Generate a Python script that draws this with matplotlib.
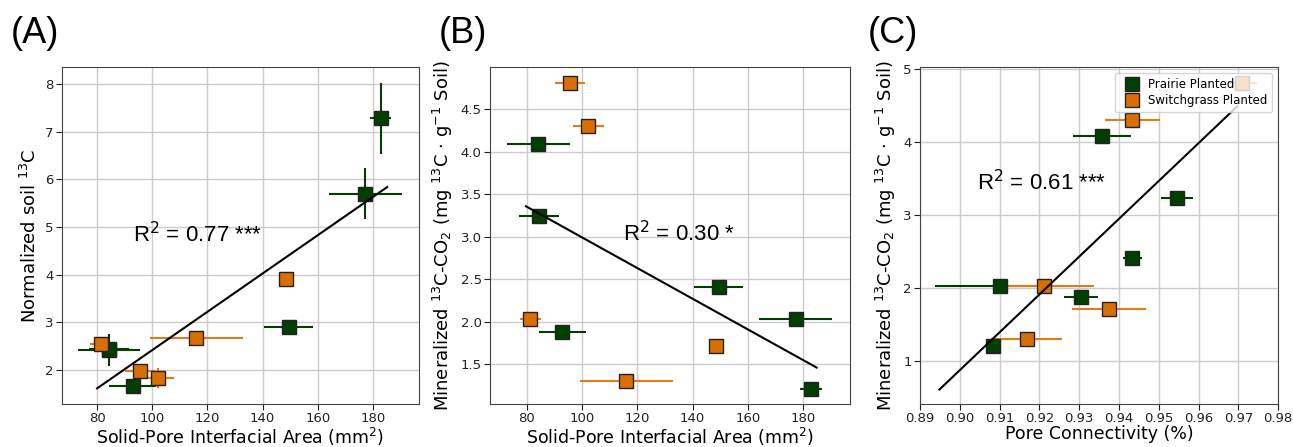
import numpy as np
import matplotlib.pyplot as plt
from matplotlib.lines import Line2D

# Prairie planted (green)
prairie_area = [84.2, 84.4, 92.9, 149.5, 177.3, 182.8]
prairie_area_err = [11.3, 7.3, 8.6, 8.9, 13.2, 3.9]
prairie_soil13c = [2.41, 2.44, 1.66, 2.89, 5.70, 7.28]
prairie_soil13c_err = [0.34, 0.0, 0.0, 0.05, 0.53, 0.75]
prairie_co2 = [4.09, 3.24, 1.88, 2.41, 2.03, 1.21]
prairie_conn = [0.9357, 0.9546, 0.9305, 0.9434, 0.9101, 0.9083]
prairie_conn_err = [0.0073, 0.0040, 0.0043, 0.0025, 0.0164, 0.0018]

# Switchgrass planted (orange)
switch_area = [95.5, 102.2, 81.3, 116.0, 148.4]
switch_area_err = [5.4, 5.6, 3.7, 16.8, 1.0]
switch_soil13c = [1.98, 1.82, 2.54, 2.67, 3.90]
switch_soil13c_err = [0.0, 0.21, 0.0, 0.0, 0.05]
switch_co2 = [4.81, 4.31, 2.03, 1.30, 1.72]
switch_conn = [0.9709, 0.9434, 0.9212, 0.9168, 0.9376]
switch_conn_err = [0.0038, 0.0068, 0.0125, 0.0089, 0.0093]

# regression lines (end points)
fit_a_x = [80, 185.2]
fit_a_y = [1.61, 5.84]
fit_b_x = [79.7, 184.9]
fit_b_y = [3.36, 1.46]
fit_c_x = [0.8949, 0.9697]
fit_c_y = [0.61, 4.49]

GREEN = '#003f00'
ORANGE = '#d96f00'
ORANGE_BAR = '#e07d18'

fig = plt.figure(figsize=(12.93, 4.47), dpi=100)
ax_a = fig.add_axes([0.048, 0.096, 0.276, 0.754])
ax_b = fig.add_axes([0.379, 0.096, 0.278, 0.754])
ax_c = fig.add_axes([0.7115, 0.096, 0.277, 0.754])


def plot_series(ax, x, y, xerr, yerr, color, barcolor):
    ax.errorbar(x, y, xerr=xerr, yerr=yerr, fmt='none', ecolor=barcolor,
                elinewidth=1.5, capsize=0, zorder=2)
    ax.plot(x, y, 's', color=color, markersize=10, markeredgecolor='#222222',
            markeredgewidth=1.0, linestyle='none', zorder=3)


def style_axis(ax):
    ax.grid(True, color='#cccccc', linewidth=1.0)
    ax.set_axisbelow(True)
    for sp in ax.spines.values():
        sp.set_color('#444444')
    ax.tick_params(labelsize=9.5, colors='#222222', length=4, pad=2)


# (A)
plot_series(ax_a, prairie_area, prairie_soil13c, prairie_area_err, prairie_soil13c_err, GREEN, GREEN)
plot_series(ax_a, switch_area, switch_soil13c, switch_area_err, switch_soil13c_err, ORANGE, ORANGE_BAR)
ax_a.plot(fit_a_x, fit_a_y, color='black', linewidth=1.5, zorder=4)
ax_a.set_xlim(67.3, 196.7)
ax_a.set_ylim(1.28, 8.36)
ax_a.set_xticks([80, 100, 120, 140, 160, 180])
ax_a.set_yticks([2, 3, 4, 5, 6, 7, 8])
ax_a.set_xlabel('Solid-Pore Interfacial Area (mm$^2$)', fontsize=12.5, labelpad=0)
ax_a.set_ylabel('Normalized soil $^{13}$C', fontsize=13)
ax_a.text(93, 4.83, 'R$^2$ = 0.77 ***', fontsize=16, family='Liberation Sans', va='center')
style_axis(ax_a)

# (B)
plot_series(ax_b, prairie_area, prairie_co2, prairie_area_err, None, GREEN, GREEN)
plot_series(ax_b, switch_area, switch_co2, switch_area_err, None, ORANGE, ORANGE_BAR)
ax_b.plot(fit_b_x, fit_b_y, color='black', linewidth=1.5, zorder=4)
ax_b.set_xlim(66.7, 196.8)
ax_b.set_ylim(1.03, 5.0)
ax_b.set_xticks([80, 100, 120, 140, 160, 180])
ax_b.set_yticks([1.5, 2.0, 2.5, 3.0, 3.5, 4.0, 4.5])
ax_b.set_xlabel('Solid-Pore Interfacial Area (mm$^2$)', fontsize=12.5, labelpad=0)
ax_b.set_ylabel('Mineralized $^{13}$C-CO$_2$ (mg $^{13}$C $\\cdot$ g$^{-1}$ Soil)', fontsize=13)
ax_b.text(114.8, 3.04, 'R$^2$ = 0.30 *', fontsize=16, family='Liberation Sans', va='center')
style_axis(ax_b)

# (C)
plot_series(ax_c, prairie_conn, prairie_co2, prairie_conn_err, None, GREEN, GREEN)
plot_series(ax_c, switch_conn, switch_co2, switch_conn_err, None, ORANGE, ORANGE_BAR)
ax_c.plot(fit_c_x, fit_c_y, color='black', linewidth=1.5, zorder=4)
ax_c.set_xlim(0.89, 0.98)
ax_c.set_ylim(0.41, 5.03)
ax_c.set_xticks(np.round(np.arange(0.89, 0.981, 0.01), 2))
ax_c.set_yticks([1, 2, 3, 4, 5])
ax_c.set_xlabel('Pore Connectivity (%)', fontsize=12.5, labelpad=0)
ax_c.set_ylabel('Mineralized $^{13}$C-CO$_2$ (mg $^{13}$C $\\cdot$ g$^{-1}$ Soil)', fontsize=13)
ax_c.text(0.9044, 3.44, 'R$^2$ = 0.61 ***', fontsize=16, family='Liberation Sans', va='center')
style_axis(ax_c)

handles = [
    Line2D([], [], marker='s', color=GREEN, markeredgecolor='#222222', linestyle='none', markersize=10),
    Line2D([], [], marker='s', color=ORANGE, markeredgecolor='#222222', linestyle='none', markersize=10),
]
leg = ax_c.legend(handles, ['Prairie Planted', 'Switchgrass Planted'], loc='upper right',
                  fontsize=8.5, handletextpad=0.4, borderpad=0.4, labelspacing=0.3)
leg.set_zorder(10)

# panel letters
for ax, lab in [(ax_a, '(A)'), (ax_b, '(B)'), (ax_c, '(C)')]:
    fig.text(ax.get_position().x0 - 0.04, 0.925, lab, fontsize=26,
             family='Liberation Sans', va='center', ha='left')

fig.savefig('out.png', dpi=100)
